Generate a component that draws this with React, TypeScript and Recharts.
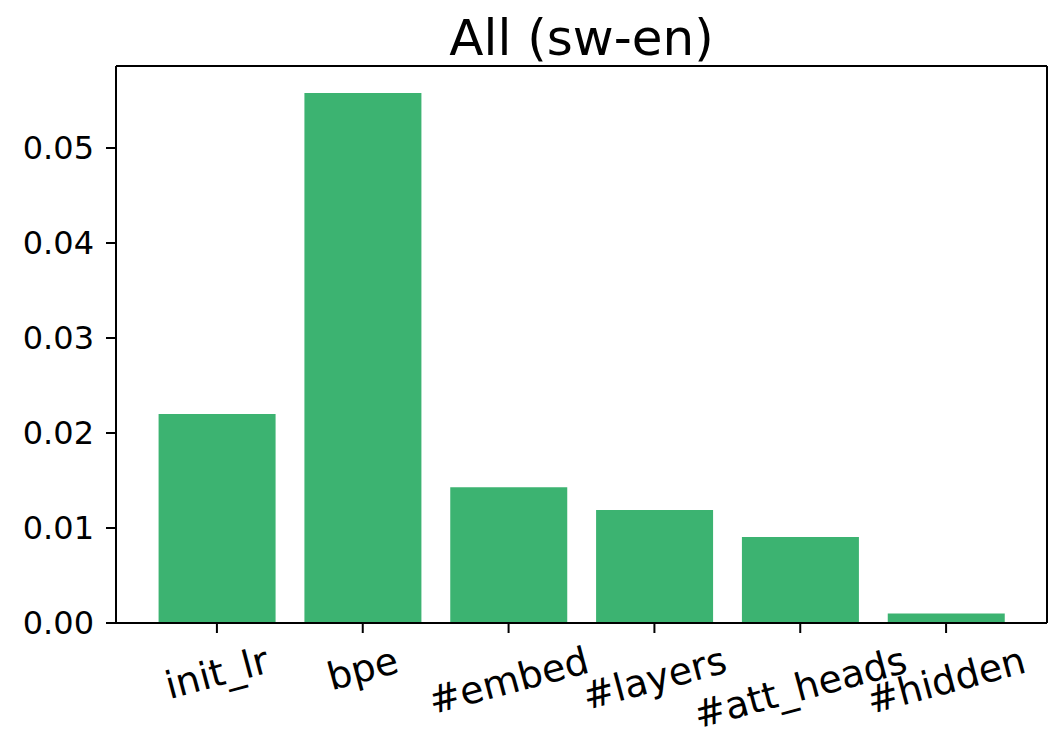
import React from 'react';
import { BarChart, Bar, XAxis, YAxis, CartesianGrid } from 'recharts';

const categories = ['init_lr', 'bpe', '#embed', '#layers', '#att_heads', '#hidden'];
const importance = [0.022, 0.0558, 0.0143, 0.0119, 0.00905, 0.001];
const yTicks = [0, 0.01, 0.02, 0.03, 0.04, 0.05];
const title = 'All (sw-en)';

const data = categories.map((name, i) => ({ name, value: importance[i] }));

const FONT = 'DejaVu Sans';
const Y_TICK_SIZE = 32;
const X_TICK_SIZE = 38;
const ANGLE = 15;

let ctx: CanvasRenderingContext2D | null = null;
function textWidth(s: string, size: number): number {
  if (!ctx) {
    const c = document.createElement('canvas');
    ctx = c.getContext('2d');
  }
  if (!ctx) return s.length * size * 0.6;
  ctx.font = `${size}px "${FONT}"`;
  return ctx.measureText(s).width;
}

// Rotated category label: bounding box top-aligned under the tick, centred on it.
const RotatedTick = (props: any) => {
  const { x, y, payload } = props;
  const w = textWidth(String(payload.value), X_TICK_SIZE);
  const h = X_TICK_SIZE * 1.164;
  const rad = (ANGLE * Math.PI) / 180;
  const half = (w * Math.sin(rad) + h * Math.cos(rad)) / 2;
  const cy = y + 5 + half;
  return (
    <text
      x={x}
      y={cy}
      transform={`rotate(${-ANGLE}, ${x}, ${cy})`}
      textAnchor="middle"
      dominantBaseline="central"
      fontFamily={FONT}
      fontSize={X_TICK_SIZE}
      fill="#000"
    >
      {payload.value}
    </text>
  );
};

// Closing edges of the plot frame (top and right), taken from the plot area.
const topEdge = ({ offset }: any) => [offset.top];
const rightEdge = ({ offset }: any) => [offset.left + offset.width];

export default function App() {
  return (
    <div style={{ position: 'absolute', left: 0, top: 0, width: 1058, height: 738, background: '#fff' }}>
      <svg width={1058} height={70} style={{ position: 'absolute', left: 0, top: 0 }}>
        <text x={581.5} y={55} textAnchor="middle" fontFamily={FONT} fontSize={50} fill="#000">
          {title}
        </text>
      </svg>
      <div style={{ position: 'absolute', left: 0, top: 0 }}>
        <BarChart
          width={1058}
          height={738}
          data={data}
          margin={{ top: 66, right: 11, left: 0, bottom: 0 }}
          barCategoryGap="10%"
        >
          <CartesianGrid
            stroke="#000"
            strokeWidth={2}
            horizontalCoordinatesGenerator={topEdge}
            verticalCoordinatesGenerator={rightEdge}
            syncWithTicks={false}
          />
          <XAxis
            dataKey="name"
            height={115}
            padding={{ left: 28, right: 28 }}
            interval={0}
            tickSize={10}
            tickMargin={0}
            tickLine={{ stroke: '#000', strokeWidth: 2 }}
            axisLine={{ stroke: '#000', strokeWidth: 2 }}
            tick={<RotatedTick />}
          />
          <YAxis
            width={116}
            domain={[0, 0.05863]}
            ticks={yTicks}
            allowDataOverflow
            tickFormatter={(v: number) => v.toFixed(2)}
            tickSize={10}
            tickMargin={12}
            tickLine={{ stroke: '#000', strokeWidth: 2 }}
            axisLine={{ stroke: '#000', strokeWidth: 2 }}
            tick={{ fill: '#000', fontFamily: FONT, fontSize: Y_TICK_SIZE }}
          />
          <Bar dataKey="value" fill="#3cb371" isAnimationActive={false} />
        </BarChart>
      </div>
    </div>
  );
}
